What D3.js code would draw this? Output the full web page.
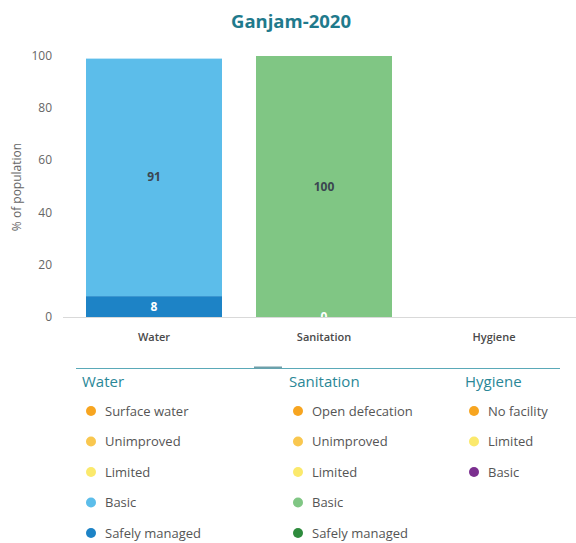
<!DOCTYPE html>
<html>
<head>
<meta charset="utf-8">
<script src="https://cdn.jsdelivr.net/npm/d3@7"></script>
<style>
  body { margin: 0; background: #fff; }
  svg { font-family: "Open Sans", "Noto Sans", sans-serif; }
</style>
</head>
<body>
<script>
const categories = ["Water", "Sanitation", "Hygiene"];
const safelyManaged = [8, 0, null];
const basic = [91, 100, null];
const yTicks = [0, 20, 40, 60, 80, 100];

const legendGroups = ["Water", "Sanitation", "Hygiene"];
const waterItems = ["Surface water", "Unimproved", "Limited", "Basic", "Safely managed"];
const sanitationItems = ["Open defecation", "Unimproved", "Limited", "Basic", "Safely managed"];
const hygieneItems = ["No facility", "Limited", "Basic"];

const waterColors = ["#f7a520", "#f9c74f", "#fbe96c", "#5cbdea", "#1d83c6"];
const sanitationColors = ["#f7a520", "#f9c74f", "#fbe96c", "#80c684", "#2e8b3d"];
const hygieneColors = ["#f7a520", "#fbe96c", "#7b2f8f"];

const width = 576, height = 543;

const svg = d3.select('body').append('svg')
  .attr('width', width)
  .attr('height', height);

const x = d3.scaleBand()
  .domain(categories)
  .range([69, 579])
  .paddingInner(0.2)
  .paddingOuter(0.1);

const y = d3.scaleLinear()
  .domain([0, 100])
  .range([317, 56]);

// title
svg.append('text')
  .attr('x', 291).attr('y', 28)
  .attr('text-anchor', 'middle')
  .style('font-size', '18.5px')
  .style('font-weight', 'bold')
  .style('fill', '#1f7a8c')
  .text('Ganjam-2020');

// y axis ticks
svg.append('g').selectAll('text')
  .data(yTicks)
  .enter().append('text')
  .attr('x', 52)
  .attr('y', d => y(d) + 4)
  .attr('text-anchor', 'end')
  .style('font-size', '12px')
  .style('fill', '#666')
  .text(d => d);

svg.append('text')
  .attr('transform', 'translate(21,187) rotate(-90)')
  .attr('text-anchor', 'middle')
  .style('font-size', '12px')
  .style('fill', '#666')
  .text('% of population');

// stacked bars
const rows = categories.map((c, i) => ({
  cat: c,
  safe: safelyManaged[i],
  basic: basic[i]
}));

const stack = d3.stack()
  .keys(['safe', 'basic'])
  .value((d, k) => d[k] || 0);

const series = stack(rows);
const colorFor = {
  safe: { Water: waterColors[4], Sanitation: sanitationColors[4] },
  basic: { Water: waterColors[3], Sanitation: sanitationColors[3] }
};
const labelColor = { safe: '#fff', basic: '#3b4650' };

const barLayer = svg.append('g');
const labelLayer = svg.append('g');

series.forEach(s => {
  const segs = s.filter(d => d.data[s.key] != null);

  barLayer.append('g').selectAll('rect')
    .data(segs)
    .enter().append('rect')
    .attr('x', d => x(d.data.cat))
    .attr('width', x.bandwidth())
    .attr('y', d => y(d[1]))
    .attr('height', d => y(d[0]) - y(d[1]))
    .style('fill', d => colorFor[s.key][d.data.cat]);

  labelLayer.append('g').selectAll('text')
    .data(segs)
    .enter().append('text')
    .attr('x', d => x(d.data.cat) + x.bandwidth() / 2)
    .attr('y', d => (y(d[0]) + y(d[1])) / 2 + 4)
    .attr('text-anchor', 'middle')
    .style('font-size', '12px')
    .style('font-weight', 'bold')
    .style('fill', labelColor[s.key])
    .text(d => d.data[s.key]);
});

// baseline
svg.append('line')
  .attr('x1', 63).attr('x2', 576)
  .attr('y1', y(0) + 0.5).attr('y2', y(0) + 0.5)
  .style('stroke', '#d9d9d9')
  .style('stroke-width', 1);

// category labels
svg.append('g').selectAll('text')
  .data(categories)
  .enter().append('text')
  .attr('x', d => x(d) + x.bandwidth() / 2)
  .attr('y', 341)
  .attr('text-anchor', 'middle')
  .style('font-size', '11px')
  .style('font-weight', '600')
  .style('fill', '#4a4a4a')
  .text(d => d);

// legend
svg.append('line')
  .attr('x1', 76).attr('x2', 560)
  .attr('y1', 368.5).attr('y2', 368.5)
  .style('stroke', '#5aa9b8')
  .style('stroke-width', 1);
svg.append('line')
  .attr('x1', 254).attr('x2', 282)
  .attr('y1', 367.5).attr('y2', 367.5)
  .style('stroke', '#6f9fa9')
  .style('stroke-width', 2);

const legendCols = [
  { x: 82, items: waterItems, colors: waterColors },
  { x: 289, items: sanitationItems, colors: sanitationColors },
  { x: 465, items: hygieneItems, colors: hygieneColors }
];

legendCols.forEach((col, ci) => {
  const g = svg.append('g');
  g.append('text')
    .attr('x', col.x).attr('y', 387)
    .style('font-size', '15px')
    .style('font-weight', '500')
    .style('fill', '#2a8797')
    .text(legendGroups[ci]);

  const item = g.selectAll('.item')
    .data(col.items)
    .enter().append('g')
    .attr('class', 'item')
    .attr('transform', (d, i) => `translate(${col.x + 9}, ${411 + i * 30.5})`);

  item.append('circle')
    .attr('r', 5)
    .style('fill', (d, i) => col.colors[i]);

  item.append('text')
    .attr('x', 14)
    .attr('y', 4.5)
    .style('font-size', '13px')
    .style('fill', '#555')
    .text(d => d);
});
</script>
</body>
</html>
